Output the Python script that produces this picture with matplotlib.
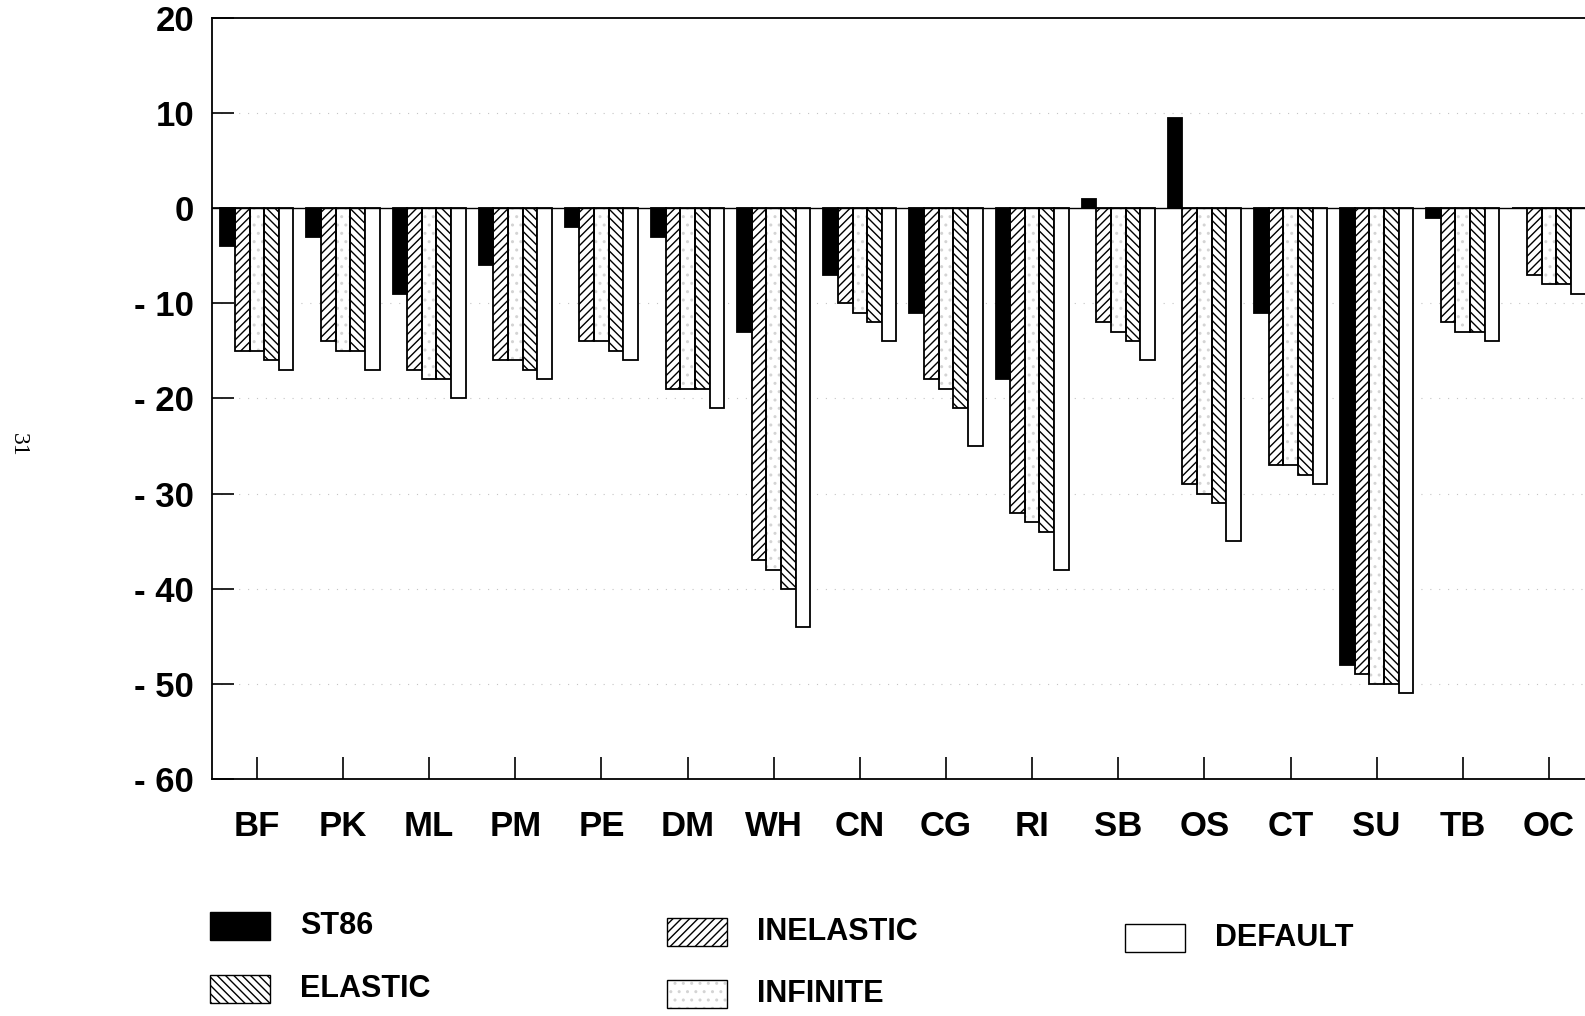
import matplotlib
matplotlib.use('Agg')
import matplotlib.pyplot as plt
from matplotlib.patches import Rectangle

plt.rcParams['font.family'] = ['Liberation Sans', 'DejaVu Sans']
plt.rcParams['hatch.linewidth'] = 1.0

regions = ['BF', 'PK', 'ML', 'PM', 'PE', 'DM', 'WH', 'CN', 'CG', 'RI',
           'SB', 'OS', 'CT', 'SU', 'TB', 'OC']
st86 = [-4, -3, -9, -6, -2, -3, -13, -7, -11, -18, 1, 9.5, -11, -48, -1, 0]
inelastic = [-15, -14, -17, -16, -14, -19, -37, -10, -18, -32, -12, -29, -27, -49, -12, -7]
infinite = [-15, -15, -18, -16, -14, -19, -38, -11, -19, -33, -13, -30, -27, -50, -13, -8]
elastic = [-16, -15, -18, -17, -15, -19, -40, -12, -21, -34, -14, -31, -28, -50, -13, -8]
default = [-17, -17, -20, -18, -16, -21, -44, -14, -25, -38, -16, -35, -29, -51, -14, -9]

yticks = [20, 10, 0, -10, -20, -30, -40, -50, -60]
ylabels = ['20', '10', '0', '- 10', '- 20', '- 30', '- 40', '- 50', '- 60']

# style per series: facecolor, hatch, hatch colour
styles = {
    'ST86': ('black', None, 'black'),
    'INELASTIC': ('white', '////', 'black'),
    'INFINITE': ('white', '..', '#d4d4d4'),
    'ELASTIC': ('white', '\\\\\\\\', 'black'),
    'DEFAULT': ('white', None, 'black'),
}


def draw_bars(ax, xs, vals, name, w):
    fc, hatch, hc = styles[name]
    if hatch:
        ax.bar(xs, vals, w, color=fc, hatch=hatch, edgecolor=hc, linewidth=0, zorder=2)
        ax.bar(xs, vals, w, color='none', edgecolor='black', linewidth=1.3, zorder=3)
    else:
        ax.bar(xs, vals, w, color=fc, edgecolor='black', linewidth=1.3, zorder=3)


def legend_item(fig, x, y, name):
    fc, hatch, hc = styles[name]
    w, h = 60 / 1585, 28 / 1016
    if hatch:
        fig.add_artist(Rectangle((x, y), w, h, transform=fig.transFigure,
                                 facecolor=fc, hatch=hatch, edgecolor=hc, linewidth=0))
        fig.add_artist(Rectangle((x, y), w, h, transform=fig.transFigure,
                                 facecolor='none', edgecolor='black', linewidth=1.0))
    else:
        fig.add_artist(Rectangle((x, y), w, h, transform=fig.transFigure,
                                 facecolor=fc, edgecolor='black', linewidth=1.0))
    fig.text(x + 90 / 1585, y + h / 2, name, fontsize=22, fontweight='bold',
             va='center', ha='left')


def main():
    fig = plt.figure(figsize=(15.85, 10.16), dpi=100)
    ax = fig.add_axes([0.1338, 0.2333, 0.869, 0.749])

    w = 0.17
    series = [('ST86', st86), ('INELASTIC', inelastic), ('INFINITE', infinite),
              ('ELASTIC', elastic), ('DEFAULT', default)]
    pos = list(range(len(regions)))
    for i, (name, vals) in enumerate(series):
        xs = [p + (i - 2) * w for p in pos]
        draw_bars(ax, xs, vals, name, w)

    ax.axhline(0, color='black', linewidth=1.0, zorder=4)
    for yv in yticks[1:-1]:
        if yv != 0:
            ax.axhline(yv, color='#c4c4c4', linewidth=0.8, linestyle=(0, (1, 7)), zorder=1)

    ax.set_xlim(-0.52, 15.47)
    ax.set_ylim(-60, 20)
    ax.set_yticks(yticks)
    ax.set_yticklabels(ylabels, fontsize=25, fontweight='bold')
    ax.set_xticks(pos)
    ax.set_xticklabels(regions, fontsize=25, fontweight='bold')
    ax.tick_params(axis='both', direction='in', length=16, width=1.2, color='black')
    ax.tick_params(axis='y', pad=13)
    ax.tick_params(axis='x', pad=22)
    for s in ax.spines.values():
        s.set_linewidth(1.3)

    # legend below the chart
    legend_item(fig, 210 / 1585, 1 - 940 / 1016, 'ST86')
    legend_item(fig, 210 / 1585, 1 - 1003 / 1016, 'ELASTIC')
    legend_item(fig, 667 / 1585, 1 - 946 / 1016, 'INELASTIC')
    legend_item(fig, 667 / 1585, 1 - 1008 / 1016, 'INFINITE')
    legend_item(fig, 1125 / 1585, 1 - 952 / 1016, 'DEFAULT')

    # page number
    fig.text(0.0115, 0.562, '31', rotation=-90, fontsize=17, family='Liberation Serif',
             ha='center', va='center')

    fig.savefig('out.png', dpi=100)


if __name__ == '__main__':
    main()
